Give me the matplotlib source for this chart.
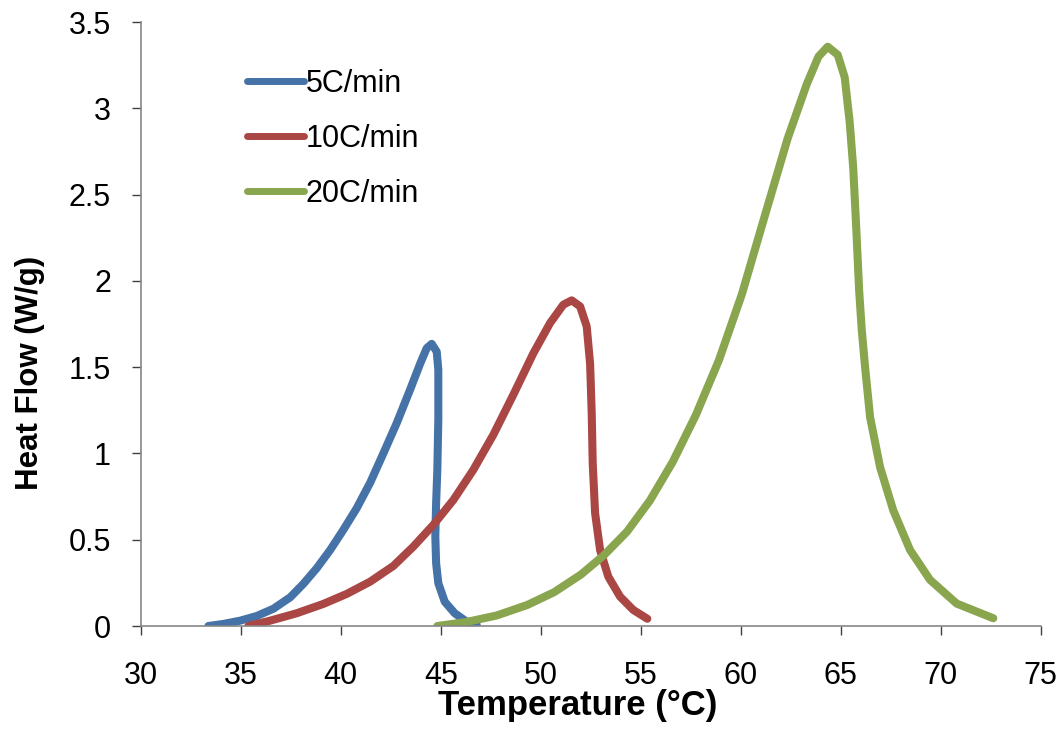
import numpy as np
import matplotlib.pyplot as plt

plt.rcParams['font.family'] = ['Liberation Sans', 'DejaVu Sans']

# 5C/min (curve turns back slightly on the drop, so kept as ordered points)
t5 = [33.38, 34.13, 34.97, 35.8, 36.63, 37.47, 38.13, 38.8, 39.47, 40.13, 40.8, 41.47,
      42.13, 42.8, 43.47, 43.97, 44.3, 44.55, 44.8, 44.88, 44.88, 44.83, 44.77, 44.73,
      44.77, 44.88, 45.2, 45.7, 46.3, 46.8]
q5 = [0.0, 0.012, 0.031, 0.058, 0.10, 0.166, 0.244, 0.335, 0.44, 0.557, 0.683, 0.83,
      1.0, 1.176, 1.37, 1.52, 1.61, 1.635, 1.59, 1.485, 1.195, 0.905, 0.71, 0.52,
      0.364, 0.248, 0.141, 0.074, 0.025, 0.006]

# 10C/min
t10 = [35.38, 36.47, 37.8, 39.13, 40.3, 41.47, 42.63, 43.63, 44.63, 45.63, 46.63, 47.63,
       48.63, 49.63, 50.47, 51.13, 51.55, 51.97, 52.3, 52.47, 52.55, 52.6, 52.72, 52.97,
       53.38, 53.97, 54.63, 55.33]
q10 = [0.0, 0.031, 0.074, 0.128, 0.186, 0.257, 0.348, 0.46, 0.586, 0.73, 0.905, 1.108,
       1.34, 1.58, 1.756, 1.862, 1.887, 1.852, 1.736, 1.52, 1.234, 0.944, 0.654, 0.44,
       0.286, 0.17, 0.093, 0.042]

# 20C/min
t20 = [44.83, 46.27, 47.8, 49.33, 50.67, 52.01, 53.16, 54.31, 55.46, 56.61, 57.76, 58.91,
       60.06, 61.2, 62.35, 63.31, 63.89, 64.35, 64.85, 65.2, 65.45, 65.63, 65.78, 65.92,
       66.05, 66.22, 66.47, 66.97, 67.63, 68.47, 69.47, 70.8, 72.63]
q20 = [0.0, 0.023, 0.061, 0.122, 0.196, 0.298, 0.41, 0.546, 0.727, 0.953, 1.223, 1.54,
       1.923, 2.375, 2.826, 3.142, 3.30, 3.357, 3.31, 3.18, 2.92, 2.65, 2.30, 1.95,
       1.72, 1.50, 1.21, 0.92, 0.67, 0.44, 0.267, 0.13, 0.045]

series = [('5C/min', t5, q5, '#4572A7'),
          ('10C/min', t10, q10, '#AA4643'),
          ('20C/min', t20, q20, '#89A54E')]

fig = plt.figure(figsize=(10.63, 7.49), dpi=100)
ax = fig.add_axes([0.1324, 0.1642, 0.8466, 0.8064])

for name, t, q, c in series:
    ax.plot(t, q, color=c, lw=5.8, label=name, solid_capstyle='round',
            solid_joinstyle='round')

ax.set_xlim(30, 75)
ax.set_ylim(0, 3.5)
ax.set_xticks(np.arange(30, 76, 5))
ax.set_yticks(np.arange(0, 3.51, 0.5))
ax.set_yticklabels(['0', '0.5', '1', '1.5', '2', '2.5', '3', '3.5'])

for s in ['top', 'right']:
    ax.spines[s].set_visible(False)
for s in ['left', 'bottom']:
    ax.spines[s].set_color('#868686')
    ax.spines[s].set_linewidth(1.2)
ax.xaxis.set_tick_params(direction='out', length=6.5, width=1, color='#404040',
                         labelsize=22, pad=19)
ax.yaxis.set_tick_params(direction='out', length=6.5, width=1, color='#404040',
                         labelsize=22, pad=15)

ax.set_xlabel('Temperature (°C)', fontsize=25, fontweight='bold')
ax.set_ylabel('Heat Flow (W/g)', fontsize=22.5, fontweight='bold')
ax.xaxis.set_label_coords(0.485, -0.131)
ax.yaxis.set_label_coords(-0.123, 0.419)
ax.xaxis.label.set_va('center')
ax.yaxis.label.set_va('center')

leg = ax.legend(loc='upper left', bbox_to_anchor=(0.088, 0.968), frameon=False,
                fontsize=22, handlelength=1.85, handletextpad=0.05, labelspacing=0.82)
for h in leg.get_lines():
    h.set_linewidth(5)

fig.savefig('out.png', dpi=100)
